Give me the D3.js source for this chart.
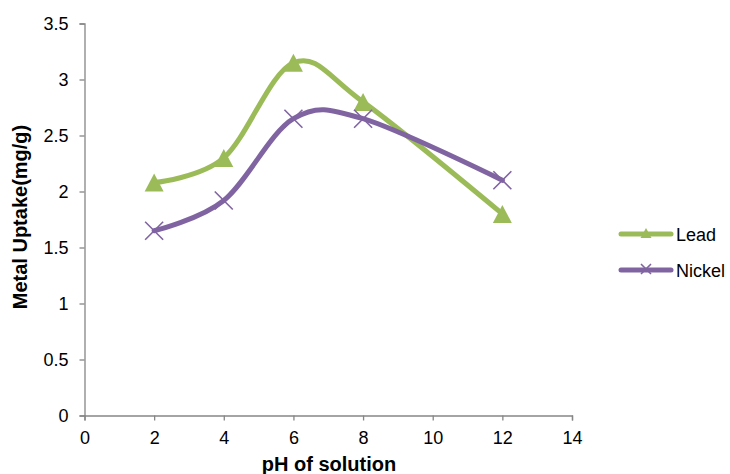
<!DOCTYPE html>
<html>
<head>
<meta charset="utf-8">
<script src="https://cdn.jsdelivr.net/npm/d3@7"></script>
<style>
  html, body { margin: 0; padding: 0; background: #fff; }
  svg { display: block; font-family: "Liberation Sans", Arial, sans-serif; }
</style>
</head>
<body>
<svg id="chart" width="730" height="474"></svg>
<script>
// pH values tested
const phValues = [2, 4, 6, 8, 12];
// Metal uptake (mg/g) for each metal
const leadUptake = [2.08, 2.30, 3.15, 2.80, 1.80];
const nickelUptake = [1.65, 1.92, 2.65, 2.65, 2.10];
const seriesNames = ["Lead", "Nickel"];
const xTicks = [0, 2, 4, 6, 8, 10, 12, 14];
const yTicks = [0, 0.5, 1, 1.5, 2, 2.5, 3, 3.5];

const series = [
  { name: seriesNames[0], values: leadUptake, color: "#9BBB59", marker: "triangle" },
  { name: seriesNames[1], values: nickelUptake, color: "#8064A2", marker: "cross" }
];

const svg = d3.select("#chart");
const x = d3.scaleLinear().domain([0, 14]).range([84.5, 572]);
const y = d3.scaleLinear().domain([0, 3.5]).range([415.5, 23.5]);
const axisColor = "#868686";
const font = "'Liberation Sans', Arial, sans-serif";

// Axes
const xAxis = svg.append("g").attr("transform", `translate(0,${y(0)})`)
  .call(d3.axisBottom(x).tickValues(xTicks).tickSize(5).tickPadding(11).tickFormat(d3.format("d")));
const yAxis = svg.append("g").attr("transform", `translate(${x(0)},0)`)
  .call(d3.axisLeft(y).tickValues(yTicks).tickSize(5).tickPadding(11).tickFormat(d => String(d)));
[xAxis, yAxis].forEach(g => {
  g.attr("font-size", null).attr("font-family", null);
  g.select(".domain").attr("stroke", axisColor).attr("stroke-width", 1.3);
  g.selectAll(".tick line").attr("stroke", axisColor).attr("stroke-width", 1.3);
  g.selectAll(".tick text").attr("fill", "#000").attr("font-size", 18).attr("font-family", font);
});

// Axis titles
svg.append("text").attr("x", 329).attr("y", 471).attr("text-anchor", "middle")
  .attr("font-size", 20).attr("font-weight", "bold").text("pH of solution");
svg.append("text").attr("transform", "translate(27,217) rotate(-90)").attr("text-anchor", "middle")
  .attr("font-size", 20).attr("font-weight", "bold").text("Metal Uptake(mg/g)");

const line = d3.line().x(d => x(d[0])).y(d => y(d[1])).curve(d3.curveCardinal.tension(0));

// Triangle centred on its bounding box, cross as two diagonal strokes
function markerPath(type, cx, cy, w, h) {
  if (type === "triangle") {
    return `M${cx},${cy - h / 2}L${cx + w / 2},${cy + h / 2}L${cx - w / 2},${cy + h / 2}Z`;
  }
  const s = w / 2;
  return `M${cx - s},${cy - s}L${cx + s},${cy + s}M${cx - s},${cy + s}L${cx + s},${cy - s}`;
}
function drawMarker(g, type, color, cx, cy, w, h) {
  const p = g.append("path").attr("d", markerPath(type, cx, cy, w, h));
  if (type === "triangle") p.attr("fill", color);
  else p.attr("stroke", color).attr("stroke-width", 1.6).attr("fill", "none");
}

series.forEach(s => {
  const pts = phValues.map((p, i) => [p, s.values[i]]);
  svg.append("path").datum(pts).attr("d", line)
    .attr("fill", "none").attr("stroke", s.color).attr("stroke-width", 5)
    .attr("stroke-linecap", "round");
  const g = svg.append("g");
  pts.forEach(p => drawMarker(g, s.marker, s.color, x(p[0]), y(p[1]),
    s.marker === "triangle" ? 19 : 18, 18));
});

// Legend
series.forEach((s, i) => {
  const ly = 234 + i * 36;
  const g = svg.append("g");
  g.append("line").attr("x1", 621).attr("x2", 671).attr("y1", ly).attr("y2", ly)
    .attr("stroke", s.color).attr("stroke-width", 5).attr("stroke-linecap", "round");
  drawMarker(g, s.marker, s.color, 646, ly - 1, s.marker === "triangle" ? 11 : 10, 10);
  g.append("text").attr("x", 676).attr("y", ly + 6.5).attr("font-size", 18).text(s.name);
});
</script>
</body>
</html>
